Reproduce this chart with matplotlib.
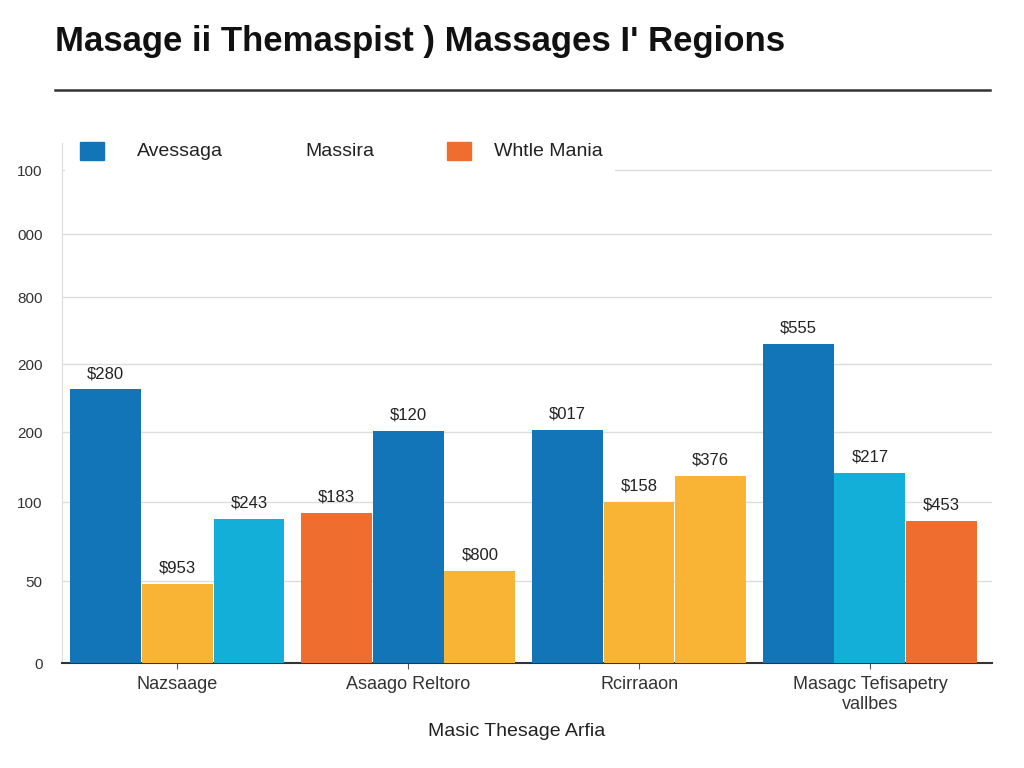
import matplotlib.pyplot as plt
from matplotlib.patches import Rectangle

plt.rcParams["font.family"] = ["Liberation Sans", "DejaVu Sans"]

# chart data
categories = ["Nazsaage", "Asaago Reltoro", "Rcirraaon", "Masagc Tefisapetry\nvallbes"]
group_values = [
    [391, 113, 206],
    [214, 331, 131],
    [333, 230, 267],
    [456, 271, 203],
]
group_labels = [
    ["$280", "$953", "$243"],
    ["$183", "$120", "$800"],
    ["$017", "$158", "$376"],
    ["$555", "$217", "$453"],
]
group_colors = [
    ["blue", "yellow", "cyan"],
    ["orange", "blue", "yellow"],
    ["blue", "yellow", "yellow"],
    ["blue", "cyan", "orange"],
]
ytick_values = [0, 117, 230, 330, 427, 523, 613, 704]
ytick_labels = ["0", "50", "100", "200", "200", "800", "000", "100"]
legend_names = ["Avessaga", "Massira", "Whtle Mania"]

palette = {"blue": "#1275b7", "yellow": "#f9b435", "cyan": "#13afd8", "orange": "#ef6e2f"}

fig = plt.figure(figsize=(10.24, 7.68), dpi=100)
ax = fig.add_axes([0.0605, 0.1367, 0.9085, 0.677])

w = 0.31
for i, vals in enumerate(group_values):
    for j, v in enumerate(vals):
        x = i + (j - 1) * w
        ax.bar(x, v, width=w * 0.99, color=palette[group_colors[i][j]], zorder=3)
        ax.text(x, v + 12, group_labels[i][j], ha="center", va="bottom",
                fontsize=12, color="#222222", zorder=4)

ax.set_xlim(-0.5, 3.53)
ax.set_ylim(0, 743)
ax.set_yticks(ytick_values)
ax.set_yticklabels(ytick_labels, fontsize=11, color="#333333")
ax.set_xticks(range(len(categories)))
ax.set_xticklabels(categories, fontsize=13, color="#333333", linespacing=1.3)
ax.tick_params(axis="y", length=0, pad=14)
ax.tick_params(axis="x", length=4, color="#555555", pad=5)

ax.grid(axis="y", color="#dddddd", linewidth=1)
ax.set_axisbelow(True)
for s in ["top", "right"]:
    ax.spines[s].set_visible(False)
ax.spines["left"].set_color("#dddddd")
ax.spines["bottom"].set_color("#333333")
ax.spines["bottom"].set_linewidth(1.5)

fig.text(517 / 1024, 1 - 731 / 768, "Masic Thesage Arfia", fontsize=14,
         color="#222222", ha="center", va="center")

# legend drawn by hand over a white strip
ax.add_patch(Rectangle((0.003, 0.9), 0.59, 0.1, transform=ax.transAxes,
                       color="white", zorder=1.5))
fig.patches.append(Rectangle((80 / 1024, 1 - 160 / 768), 24 / 1024, 18 / 768,
                             transform=fig.transFigure, color=palette["blue"]))
fig.patches.append(Rectangle((447 / 1024, 1 - 160 / 768), 24 / 1024, 18 / 768,
                             transform=fig.transFigure, color=palette["orange"]))
for name, px in zip(legend_names, [137, 305, 494]):
    fig.text(px / 1024, 1 - 151 / 768, name, fontsize=14, color="#222222", va="center")

fig.text(55 / 1024, 1 - 42 / 768, "Masage ii Themaspist ) Massages I' Regions",
         fontsize=25, fontweight="bold", color="#111111", va="center")
fig.add_artist(plt.Line2D([55 / 1024, 990 / 1024], [1 - 90 / 768, 1 - 90 / 768],
                          color="#333333", linewidth=1.8))

fig.savefig("out.png", dpi=100)
